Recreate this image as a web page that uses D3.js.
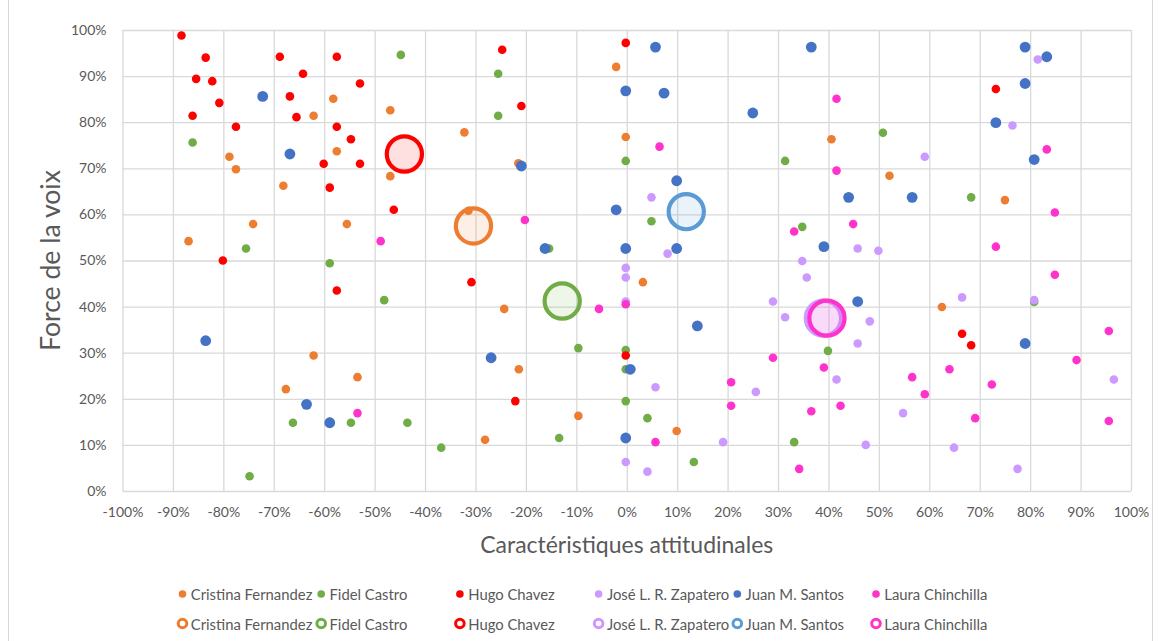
<!DOCTYPE html>
<html><head><meta charset="utf-8">
<script src="https://cdn.jsdelivr.net/npm/d3@7"></script>
<style>
html,body{margin:0;padding:0;background:#fff;}
svg{display:block;font-family:Lato,"Open Sans",sans-serif;}
</style>
</head><body>
<svg id="chart" width="1161" height="641"></svg>
<script>
// ---------- data (values in %) ----------
const seriesNames = ["Cristina Fernandez","Fidel Castro","Hugo Chavez","José L. R. Zapatero","Juan M. Santos","Laura Chinchilla"];
const seriesColors = ["#ED7D31","#70AD47","#FF0000","#CC99FF","#4472C4","#FF33CC"];
const averageColors = ["#ED7D31","#70AD47","#FF0000","#CC99FF","#5B9BD5","#FF33CC"];

const cristinaFernandez = [[-58.2,85.1],[-62.1,81.4],[-78.8,72.5],[-57.5,73.7],[-77.5,69.8],[-68.1,66.2],[-74.1,57.9],[-55.5,57.9],[-86.9,54.2],[-62.1,29.4],[-53.4,24.7],[-67.6,22.1],[-2.1,92.0],[-46.9,82.6],[-32.2,77.8],[-0.2,76.8],[-21.5,71.1],[-46.9,68.3],[-31.4,60.8],[-24.3,39.5],[3.2,45.3],[-21.4,26.4],[-9.6,16.3],[-28.1,11.1],[40.6,76.3],[52.1,68.4],[75.0,63.1],[62.5,39.9],[9.9,13.0]];
const fidelCastro = [[-86.1,75.6],[-75.5,52.6],[-58.9,49.4],[-66.2,14.8],[-58.9,15.0],[-54.7,14.8],[-74.8,3.2],[-44.8,94.6],[-25.5,90.5],[-25.5,81.4],[-0.2,71.6],[-15.4,52.6],[-48.1,41.4],[-9.6,31.0],[-0.2,30.6],[-0.2,26.4],[-0.2,19.5],[-43.5,14.8],[-13.4,11.5],[-36.8,9.4],[50.8,77.7],[31.4,71.6],[4.9,58.5],[34.8,57.3],[39.9,30.4],[4.1,15.8],[33.2,10.6],[13.3,6.3],[68.3,63.7],[80.8,41.0]];
const hugoChavez = [[-88.3,98.8],[-83.5,94.0],[-68.8,94.2],[-57.5,94.2],[-85.4,89.4],[-82.2,88.9],[-64.2,90.5],[-52.9,88.4],[-66.8,85.6],[-80.8,84.2],[-86.1,81.4],[-65.5,81.1],[-77.5,79.0],[-57.5,79.0],[-54.7,76.3],[-60.1,71.0],[-52.9,71.0],[-58.9,65.8],[-80.1,50.0],[-57.5,43.5],[-24.7,95.7],[-0.2,97.2],[-20.9,83.5],[-46.2,61.0],[-30.8,45.3],[-0.2,29.4],[-22.1,19.5],[73.2,87.2],[66.5,34.1],[68.3,31.6]];
const joseZapatero = [[-0.2,48.4],[-0.2,46.3],[-0.2,41.1],[-0.2,6.3],[4.9,63.7],[8.1,51.5],[45.8,52.6],[49.9,52.1],[34.8,49.9],[35.7,46.3],[29.0,41.1],[31.4,37.7],[48.2,36.8],[45.8,32.0],[41.6,24.2],[25.6,21.5],[5.7,22.5],[19.1,10.6],[47.4,10.0],[4.1,4.2],[81.5,93.6],[76.5,79.3],[59.1,72.5],[66.5,42.0],[80.8,41.4],[96.6,24.2],[54.8,16.9],[64.9,9.4],[77.5,4.8]];
const juanSantos = [[-72.2,85.6],[-66.8,73.1],[-83.5,32.6],[-63.5,18.8],[-58.9,14.8],[-0.2,86.8],[-20.9,70.5],[-2.1,61.0],[-16.2,52.6],[-0.2,52.6],[-26.9,28.9],[0.7,26.4],[-0.2,11.5],[5.7,96.3],[36.6,96.3],[7.4,86.3],[25.0,82.0],[9.9,67.3],[44.0,63.7],[9.9,52.6],[39.1,53.0],[45.8,41.1],[14.0,35.8],[79.0,96.3],[83.3,94.2],[79.0,88.4],[73.2,79.9],[80.8,71.9],[56.6,63.7],[79.0,32.0]];
const lauraChinchilla = [[-53.4,16.9],[-20.2,58.8],[-48.8,54.2],[-5.5,39.5],[-0.2,40.5],[41.6,85.1],[6.5,74.7],[41.6,69.5],[33.2,56.3],[44.9,57.9],[29.0,28.9],[39.1,26.8],[20.7,23.6],[20.7,18.5],[36.6,17.3],[42.4,18.5],[5.7,10.6],[34.2,4.8],[83.3,74.1],[84.9,60.4],[73.2,53.0],[84.9,46.9],[95.6,34.7],[89.2,28.4],[64.0,26.4],[56.6,24.7],[72.4,23.1],[59.1,21.0],[69.1,15.8],[95.6,15.2]];
const averagePoints = [[-30.4,57.5],[-12.8,41.2],[-44.1,73.1],[39.0,37.5],[11.8,60.6],[39.7,37.5]];

const xTicks = [-100,-90,-80,-70,-60,-50,-40,-30,-20,-10,0,10,20,30,40,50,60,70,80,90,100];
const yTicks = [0,10,20,30,40,50,60,70,80,90,100];
const xTitle = "Caractéristiques attitudinales";
const yTitle = "Force de la voix";

const allSeries = [cristinaFernandez, fidelCastro, hugoChavez, joseZapatero, juanSantos, lauraChinchilla];

// ---------- layout ----------
const svg = d3.select("#chart");
const W = 1161, H = 641;
const plot = {left:122.5, right:1131, top:30, bottom:491};
const textColor = "#595959";
const gridColor = "#D9D9D9";

svg.append("rect").attr("x",8.5).attr("y",-1).attr("width",1144).attr("height",H+2)
  .attr("fill","#fff").attr("stroke",gridColor).attr("stroke-width",1);

const x = d3.scaleLinear().domain([-100,100]).range([plot.left, plot.right]);
const y = d3.scaleLinear().domain([0,100]).range([plot.bottom, plot.top]);

// gridlines
const gx = svg.append("g").attr("transform",`translate(0,${plot.bottom})`)
  .call(d3.axisBottom(x).tickValues(xTicks).tickSize(-(plot.bottom-plot.top)).tickFormat(""));
const gy = svg.append("g").attr("transform",`translate(${plot.left},0)`)
  .call(d3.axisLeft(y).tickValues(yTicks).tickSize(-(plot.right-plot.left)).tickFormat(""));
[gx,gy].forEach(g=>{
  g.select(".domain").remove();
  g.selectAll(".tick line").attr("stroke",gridColor).attr("stroke-width",1.3);
});

// tick labels
const ax = svg.append("g").attr("transform",`translate(0,${plot.bottom})`)
  .call(d3.axisBottom(x).tickValues(xTicks).tickSize(0).tickPadding(16).tickFormat(d=>`${d}%`));
const ay = svg.append("g").attr("transform",`translate(${plot.left},0)`)
  .call(d3.axisLeft(y).tickValues(yTicks).tickSize(0).tickPadding(16).tickFormat(d=>`${d}%`));
[ax,ay].forEach(g=>{
  g.select(".domain").remove();
  g.selectAll("text").attr("fill",textColor).style("font-size","14px").style("font-family","Lato");
});

// axis titles
function fitText(sel, target){
  const w = sel.node().getComputedTextLength();
  const fs = parseFloat(sel.style("font-size"));
  sel.style("font-size", (fs*target/w).toFixed(2)+"px");
}
const xt = svg.append("text").attr("x",(plot.left+plot.right)/2).attr("y",544)
  .attr("text-anchor","middle").attr("dominant-baseline","central")
  .attr("fill",textColor).style("font-size","20px").text(xTitle);
fitText(xt, 293);
const yt = svg.append("text").attr("transform",`translate(50,${(plot.top+plot.bottom)/2}) rotate(-90)`)
  .attr("text-anchor","middle").attr("dominant-baseline","central")
  .attr("fill",textColor).style("font-size","22px").text(yTitle);
fitText(yt, 181);

// points
const pts = svg.append("g");
allSeries.forEach((data,i)=>{
  pts.append("g").selectAll("circle").data(data).join("circle")
    .attr("cx",d=>x(d[0])).attr("cy",d=>y(d[1]))
    .attr("r", i===4 ? 5.4 : 4.3)
    .attr("fill",seriesColors[i]);
});

// averages
const avg = svg.append("g");
averagePoints.forEach((d,i)=>{
  const c = d3.color(averageColors[i]); c.opacity = 0.12;
  avg.append("circle").attr("cx",x(d[0])).attr("cy",y(d[1])).attr("r",17.6)
    .attr("fill",c.formatRgb()).attr("stroke",averageColors[i]).attr("stroke-width",4.2);
});

// legend
const legend = svg.append("g");
const legendX0 = 182.5, legendStep = 138.7, row1 = 594, row2 = 623.5;
let legendTexts = [];
seriesNames.forEach((name,i)=>{
  const mx = legendX0 + i*legendStep;
  legend.append("circle").attr("cx",mx).attr("cy",row1).attr("r",3.8).attr("fill",seriesColors[i]);
  legend.append("circle").attr("cx",mx).attr("cy",row2).attr("r",4.3)
    .attr("fill","#fff").attr("stroke",averageColors[i]).attr("stroke-width",3);
  [row1,row2].forEach(ry=>{
    legendTexts.push(legend.append("text").attr("x",mx+8.3).attr("y",ry)
      .attr("dominant-baseline","central").attr("fill",textColor)
      .style("font-size","14px").text(name));
  });
});
const w0 = legendTexts[0].node().getComputedTextLength();
const lfs = (14*121.6/w0).toFixed(2)+"px";
legendTexts.forEach(t=>t.style("font-size",lfs));
</script>
</body></html>
